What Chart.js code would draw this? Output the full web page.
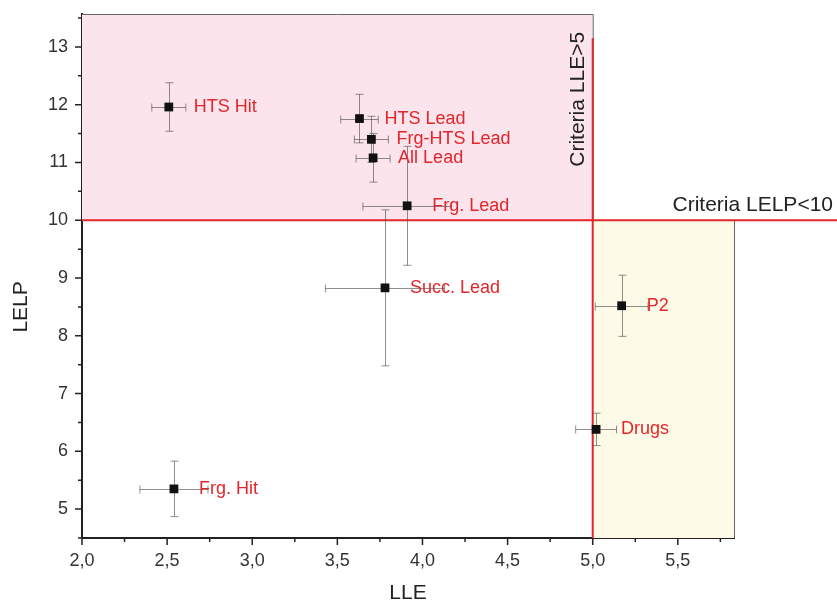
<!DOCTYPE html>
<html>
<head>
<meta charset="utf-8">
<script src="https://cdn.jsdelivr.net/npm/chart.js@4"></script>
<style>
  html, body { margin: 0; padding: 0; background: #fff; }
  #wrap { width: 837px; height: 604px; }
</style>
</head>
<body>
<div id="wrap"><canvas id="lleChart"></canvas></div>
<script>
// compound classes and their mean LLE / LELP with spread
const names = ['HTS Hit', 'HTS Lead', 'Frg-HTS Lead', 'All Lead', 'Frg. Lead', 'Succ. Lead', 'P2', 'Drugs', 'Frg. Hit'];
const lle = [2.51, 3.63, 3.70, 3.71, 3.91, 3.78, 5.17, 5.02, 2.54];
const lelp = [11.96, 11.76, 11.40, 11.08, 10.25, 8.83, 8.52, 6.38, 5.35];
const lleErr = [0.10, 0.11, 0.10, 0.10, 0.26, 0.35, 0.155, 0.12, 0.20];
const lelpErr = [0.42, 0.42, 0.40, 0.42, 1.03, 1.35, 0.53, 0.28, 0.48];

// thresholds and axis range
const lleCut = 5;
const lelpCut = 10;
const xRange = [2.0, 5.83];
const yRange = [4.5, 13.57];

const RED = '#e3262b';
const FONT = 'Arial, "Liberation Sans", sans-serif';

const regions = {
    id: 'regions',
    beforeDatasetsDraw(chart) {
        const {ctx, scales: {x, y}} = chart;
        const x0 = x.getPixelForValue(xRange[0]), x5 = x.getPixelForValue(lleCut), x1 = x.getPixelForValue(xRange[1]);
        const yTop = y.getPixelForValue(yRange[1]), y10 = y.getPixelForValue(lelpCut), yBot = y.getPixelForValue(yRange[0]);
        ctx.save();
        // pink: LELP above the cut
        ctx.fillStyle = '#fbe4ec';
        ctx.fillRect(x0, yTop, x5 - x0, y10 - yTop);
        // yellow: LLE above and LELP below the cuts
        ctx.fillStyle = '#fdfbe8';
        ctx.fillRect(x5, y10, x1 - x5, yBot - y10);
        ctx.strokeStyle = '#666';
        ctx.lineWidth = 1;
        ctx.beginPath();
        ctx.moveTo(x0, yTop + 0.5); ctx.lineTo(x5 + 0.5, yTop + 0.5); ctx.lineTo(x5 + 0.5, y10);
        ctx.moveTo(x1 + 0.5, y10); ctx.lineTo(x1 + 0.5, yBot);
        ctx.stroke();
        // criteria lines
        ctx.strokeStyle = RED;
        ctx.lineWidth = 2;
        ctx.beginPath();
        ctx.moveTo(x0, y10); ctx.lineTo(chart.width, y10);
        ctx.moveTo(x5, y.getPixelForValue(13.15)); ctx.lineTo(x5, yBot);
        ctx.stroke();
        ctx.fillStyle = '#222';
        ctx.font = '21px ' + FONT;
        ctx.textAlign = 'right';
        ctx.textBaseline = 'bottom';
        ctx.fillText('Criteria LELP<10', chart.width - 4, y10 - 5);
        ctx.translate(x5 - 4, y.getPixelForValue(13.26));
        ctx.rotate(-Math.PI / 2);
        ctx.textAlign = 'right';
        ctx.textBaseline = 'bottom';
        ctx.fillText('Criteria LLE>5', 0, 0);
        ctx.restore();
    }
};

const errorBars = {
    id: 'errorBars',
    beforeDatasetsDraw(chart) {
        const {ctx, scales: {x, y}} = chart;
        const cap = 4;
        ctx.save();
        ctx.strokeStyle = 'rgba(70,70,70,0.6)';
        ctx.lineWidth = 1;
        lle.forEach((v, i) => {
            const px = Math.round(x.getPixelForValue(v)) + 0.5;
            const py = Math.round(y.getPixelForValue(lelp[i])) + 0.5;
            const xl = x.getPixelForValue(v - lleErr[i]), xr = x.getPixelForValue(v + lleErr[i]);
            const yt = y.getPixelForValue(lelp[i] + lelpErr[i]), yb = y.getPixelForValue(lelp[i] - lelpErr[i]);
            ctx.beginPath();
            ctx.moveTo(xl, py); ctx.lineTo(xr, py);
            ctx.moveTo(xl, py - cap); ctx.lineTo(xl, py + cap);
            ctx.moveTo(xr, py - cap); ctx.lineTo(xr, py + cap);
            ctx.moveTo(px, yt); ctx.lineTo(px, yb);
            ctx.moveTo(px - cap, yt); ctx.lineTo(px + cap, yt);
            ctx.moveTo(px - cap, yb); ctx.lineTo(px + cap, yb);
            ctx.stroke();
        });
        ctx.restore();
    }
};

const pointLabels = {
    id: 'pointLabels',
    afterDatasetsDraw(chart) {
        const {ctx} = chart;
        const meta = chart.getDatasetMeta(0);
        ctx.save();
        ctx.fillStyle = RED;
        ctx.font = '18px ' + FONT;
        ctx.textAlign = 'left';
        ctx.textBaseline = 'middle';
        meta.data.forEach((pt, i) => {
            ctx.fillText(names[i], pt.x + 25, pt.y);
        });
        ctx.restore();
    }
};

// outward tick marks, long on labelled values and short in between;
// the LELP title sits a little below the middle of the axis
const axisExtras = {
    id: 'axisExtras',
    afterDraw(chart) {
        const {ctx, scales: {x, y}} = chart;
        ctx.save();
        ctx.strokeStyle = '#222';
        ctx.lineWidth = 1.5;
        ctx.beginPath();
        x.ticks.forEach(t => {
            const px = x.getPixelForValue(t.value);
            const len = t.label !== '' ? 7 : 4;
            ctx.moveTo(px, x.top); ctx.lineTo(px, x.top + len);
        });
        y.ticks.forEach(t => {
            const py = y.getPixelForValue(t.value);
            const len = t.label !== '' ? 7 : 4;
            ctx.moveTo(y.right, py); ctx.lineTo(y.right - len, py);
        });
        ctx.stroke();
        ctx.fillStyle = '#222';
        ctx.font = '21px ' + FONT;
        ctx.textAlign = 'center';
        ctx.textBaseline = 'middle';
        ctx.translate(21, y.getPixelForValue(8.5));
        ctx.rotate(-Math.PI / 2);
        ctx.fillText('LELP', 0, 0);
        ctx.restore();
    }
};

const tickFont = {family: FONT, size: 18};
const titleFont = {family: FONT, size: 21, lineHeight: 1};

new Chart(document.getElementById('lleChart'), {
    type: 'scatter',
    data: {
        datasets: [{
            data: lle.map((v, i) => ({x: v, y: lelp[i]})),
            pointStyle: 'rect',
            pointRadius: 6.2,
            pointHoverRadius: 6.2,
            backgroundColor: '#111',
            borderColor: '#111',
            borderWidth: 0
        }]
    },
    options: {
        responsive: true,
        maintainAspectRatio: false,
        animation: false,
        layout: {padding: {top: 14, right: 103, left: 0, bottom: 0}},
        plugins: {
            legend: {display: false},
            tooltip: {enabled: false}
        },
        scales: {
            x: {
                type: 'linear',
                min: xRange[0],
                max: xRange[1],
                grid: {display: false, drawTicks: false},
                border: {display: true, color: '#222', width: 2},
                ticks: {
                    stepSize: 0.25,
                    includeBounds: false,
                    autoSkip: false,
                    maxRotation: 0,
                    padding: 12,
                    color: '#333',
                    font: tickFont,
                    callback: v => (Math.abs(v * 2 - Math.round(v * 2)) < 1e-6 ? v.toFixed(1).replace('.', ',') : '')
                },
                title: {display: true, text: 'LLE', color: '#222', font: titleFont, padding: {top: 0, bottom: 0}},
                afterFit: s => { s.height = 66; s.paddingLeft = 0; s.paddingRight = 0; }
            },
            y: {
                type: 'linear',
                min: yRange[0],
                max: yRange[1],
                grid: {display: false, drawTicks: false},
                border: {display: true, color: '#222', width: 2},
                ticks: {
                    stepSize: 0.5,
                    includeBounds: false,
                    autoSkip: false,
                    padding: 14,
                    color: '#333',
                    font: tickFont,
                    callback: v => (Number.isInteger(v) ? String(v) : '')
                },
                title: {display: false},
                afterFit: s => { s.width = 82; s.paddingTop = 0; s.paddingBottom = 0; }
            }
        }
    },
    plugins: [regions, errorBars, pointLabels, axisExtras]
});
</script>
</body>
</html>
